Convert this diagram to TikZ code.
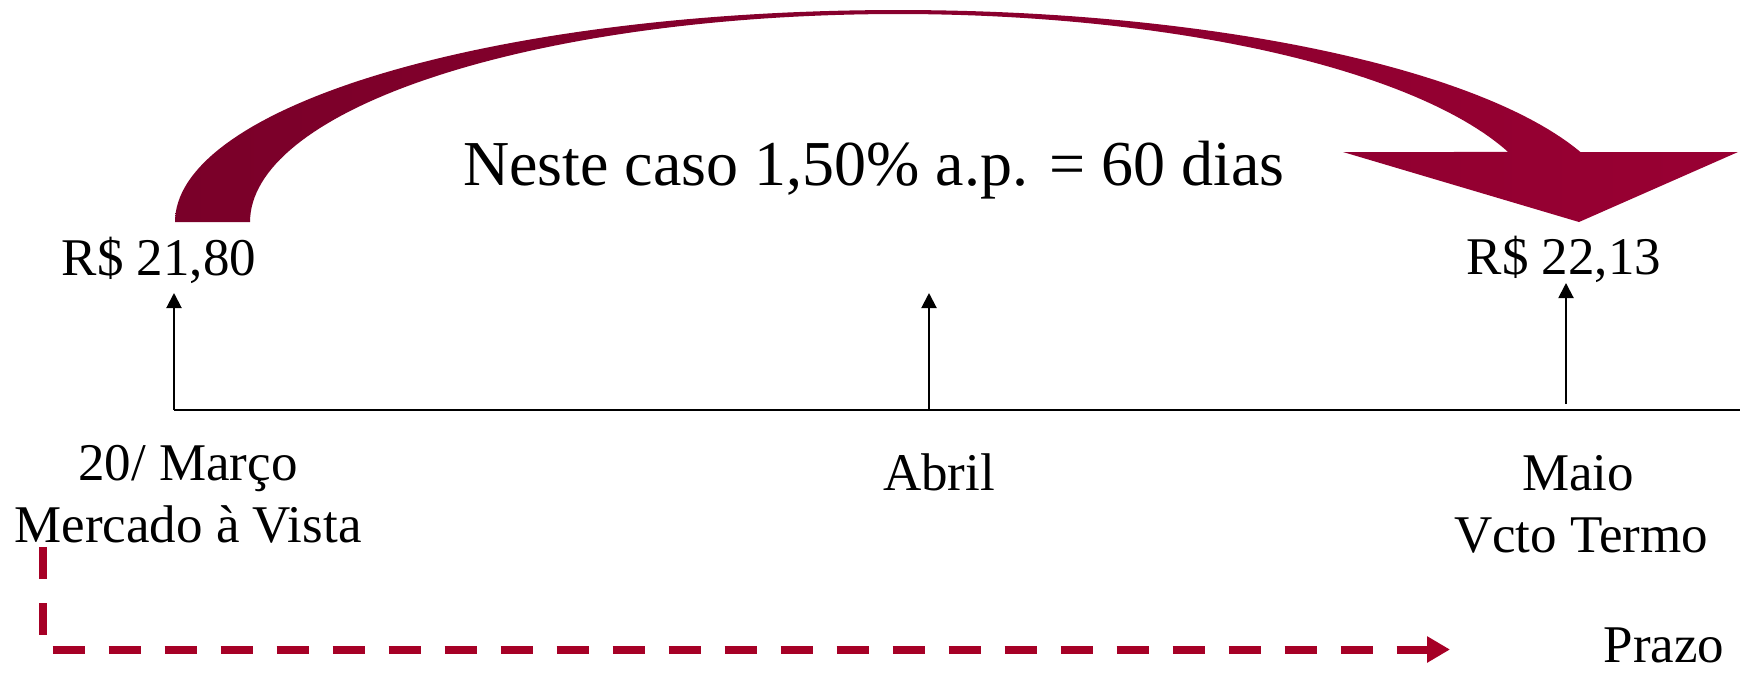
\documentclass[tikz,border=0pt]{standalone}
\usepackage{fontspec}
\setmainfont{Liberation Serif}
\usetikzlibrary{arrows.meta}
\definecolor{arcL}{RGB}{122,0,41}
\definecolor{arcR}{RGB}{153,0,51}
\definecolor{dashred}{RGB}{166,0,38}
\tikzset{
  small/.style={anchor=base, inner sep=0pt, font=\fontsize{26.5pt}{30pt}\selectfont},
  big/.style={anchor=base, inner sep=0pt, font=\fontsize{32pt}{36pt}\selectfont},
  tick/.style={line width=1pt, -{Triangle[length=7.5pt,width=7.5pt]}},
  axis/.style={line width=1pt},
  prazo/.style={line width=4pt, dashred, dash pattern=on 16pt off 12pt,
    -{Triangle[length=11.5pt,width=12.5pt]}}
}
\begin{document}
\begin{tikzpicture}[x=0.5pt,y=-0.5pt]
\useasboundingbox (0,0) rectangle (1746,676);
% curved arrow
\shade[left color=arcL, right color=arcR]
  (175,222) -- plot[domain=180:19.28, samples=120] ({898+723*cos(\x)},{222-212*sin(\x)})
  -- (1738,152) -- (1579,222) -- (1343,152)
  -- plot[domain=19.67:180, samples=120] ({898+648*cos(\x)},{222-208*sin(\x)}) -- cycle;
% axis
\coordinate (a0) at (174,410);
\coordinate (a1) at (1740,410);
\draw[axis] (a0) -- (a1);
% ticks
\coordinate (b1) at (174,410);  \coordinate (t1) at (174,293);
\coordinate (b2) at (929,410);  \coordinate (t2) at (929,293);
\coordinate (b3) at (1566,404); \coordinate (t3) at (1566,283);
\draw[tick] (b1) -- (t1);
\draw[tick] (b2) -- (t2);
\draw[tick] (b3) -- (t3);
% texts
\node[big] (title) at (874,185) {Neste caso 1,50\% a.p. = 60 dias};
\node[small] (p1) at (159,275) {R\$ 21,80};
\node[small] (p2) at (1564,274) {R\$ 22,13};
\node[small] (d1) at (188,480) {20/ Março};
\node[small] (d1b) at (188,542) {Mercado à Vista};
\node[small] (d2) at (939,490) {Abril};
\node[small] (d3) at (1578,490) {Maio};
\node[small] (d3b) at (1581,552) {Vcto Termo};
\node[small] (pz) at (1664,662) {Prazo};
% dashed prazo arrow
\coordinate (s0) at (43,547);
\coordinate (s1) at (43,649.5);
\coordinate (s2) at (1450,649.5);
\draw[prazo] (s0) -- (s1) -- (s2);
\end{tikzpicture}
\end{document}
